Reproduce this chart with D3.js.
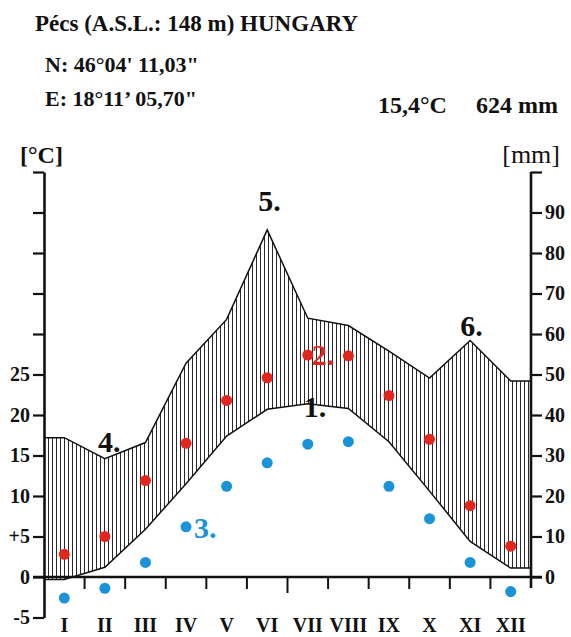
<!DOCTYPE html>
<html>
<head>
<meta charset="utf-8">
<script src="https://cdn.jsdelivr.net/npm/d3@7"></script>
<style>
  body { margin: 0; background: #fff; }
  svg { display: block; }
  text { font-family: "Liberation Serif", "Times New Roman", serif; fill: #111; }
</style>
</head>
<body>
<svg id="chart" width="571" height="637"></svg>
<script>
// monthly values
const months = ["I", "II", "III", "IV", "V", "VI", "VII", "VIII", "IX", "X", "XI", "XII"];
const tempMean = [-0.3, 1.2, 5.9, 11.5, 17.4, 20.7, 21.4, 20.8, 16.7, 10.6, 4.4, 1.1];   // 1.
const tempMax = [2.8, 5.0, 11.9, 16.5, 21.8, 24.6, 27.4, 27.3, 22.4, 17.0, 8.8, 3.8];    // 2.
const tempMin = [-2.6, -1.4, 1.8, 6.2, 11.2, 14.1, 16.4, 16.7, 11.2, 7.2, 1.8, -1.8];    // 3.
const precip = [34.4, 29.2, 33.2, 52.8, 63.6, 85.7, 63.9, 62.1, 55.8, 49.1, 58.4, 48.4]; // 4.-6.

const tempTicks = [-5, 0, 5, 10, 15, 20, 25, 30, 35, 40, 45, 50];
const tempLabels = [-5, 0, 5, 10, 15, 20, 25];
const mmTicks = [0, 10, 20, 30, 40, 50, 60, 70, 80, 90, 100];
const mmLabels = [0, 10, 20, 30, 40, 50, 60, 70, 80, 90];

const red = "#e3261d";
const blue = "#1b93d8";

const svg = d3.select("#chart");

const x = d3.scaleBand().domain(months).range([44, 531]);
const yT = d3.scaleLinear().domain([-5, 50]).range([617.5, 172]);
const yP = d3.scaleLinear().domain([-10, 100]).range([617.5, 172]);
const cx = m => x(m) + x.bandwidth() / 2;

// header
let head = svg.append("g").style("font-weight", "bold");
head.append("text").attr("x", 35).attr("y", 31).style("font-size", "23px")
    .text("Pécs (A.S.L.: 148 m) HUNGARY");
head.append("text").attr("x", 45).attr("y", 72).style("font-size", "22px")
    .text("N: 46°04' 11,03\"");
head.append("text").attr("x", 45).attr("y", 106).style("font-size", "22px")
    .text("E: 18°11’ 05,70\"");
head.append("text").attr("x", 378).attr("y", 113).style("font-size", "24px").text("15,4°C");
head.append("text").attr("x", 558).attr("y", 113).attr("text-anchor", "end").style("font-size", "24px").text("624 mm");
head.append("text").attr("x", 20).attr("y", 163).style("font-size", "24px").text("[°C]");
svg.append("text").attr("x", 560).attr("y", 163).attr("text-anchor", "end").style("font-size", "26px").text("[mm]");

// hatched humid zone between temperature and precipitation curves
let defs = svg.append("defs");
let pat = defs.append("pattern").attr("id", "hatch").attr("patternUnits", "userSpaceOnUse")
    .attr("width", 4).attr("height", 8);
pat.append("line").attr("x1", 0.5).attr("x2", 0.5).attr("y1", 0).attr("y2", 8)
    .attr("stroke", "#111").attr("stroke-width", 0.9);

let pts = months.map((m, i) => ({ x: cx(m), t: tempMean[i], p: precip[i] }));
pts.unshift({ x: x.range()[0], t: tempMean[0], p: precip[0] });
pts.push({ x: x.range()[1], t: tempMean[11], p: precip[11] });

let area = d3.area().x(d => d.x).y0(d => yT(d.t)).y1(d => yP(d.p));
svg.append("path").datum(pts).attr("d", area).attr("fill", "url(#hatch)");

let tLine = d3.line().x(d => d.x).y(d => yT(d.t));
let pLine = d3.line().x(d => d.x).y(d => yP(d.p));
svg.append("path").datum(pts).attr("d", tLine).attr("fill", "none").attr("stroke", "#111").attr("stroke-width", 1.5);
svg.append("path").datum(pts).attr("d", pLine).attr("fill", "none").attr("stroke", "#111").attr("stroke-width", 1.5);

// axes
let leftAxis = d3.axisLeft(yT).tickValues(tempTicks).tickSize(11).tickSizeOuter(0).tickPadding(3)
    .tickFormat(d => tempLabels.includes(d) ? (d === 5 ? "+5" : String(d)) : "");
let gl = svg.append("g").attr("transform", "translate(44,0)").call(leftAxis);

let rightAxis = d3.axisRight(yP).tickValues(mmTicks).tickSize(11).tickSizeOuter(0).tickPadding(3)
    .tickFormat(d => mmLabels.includes(d) ? String(d) : "");
let gr = svg.append("g").attr("transform", "translate(531,0)").call(rightAxis);
gr.select(".domain").remove();
gr.append("line").attr("y1", yP(100)).attr("y2", yP(0) + 11).attr("stroke", "#111").attr("stroke-width", 2.6);

[gl, gr].forEach(g => {
    g.select(".domain").attr("stroke", "#111").attr("stroke-width", 2.6);
    g.selectAll(".tick line").attr("stroke", "#111").attr("stroke-width", 2.2);
    g.selectAll(".tick text").style("font-family", "Liberation Serif").style("font-size", "20px")
        .style("font-weight", "bold").attr("fill", "#111");
});

// zero line and month ticks
svg.append("line").attr("x1", x.range()[0] - 11).attr("x2", x.range()[1] + 11)
    .attr("y1", yT(0)).attr("y2", yT(0)).attr("stroke", "#111").attr("stroke-width", 2.4);
svg.selectAll(".mtick").data(months.slice(1)).join("line").attr("class", "mtick")
    .attr("x1", d => x(d)).attr("x2", d => x(d))
    .attr("y1", yT(0)).attr("y2", d => yT(0) + (d === "VII" ? 16 : 12))
    .attr("stroke", "#111").attr("stroke-width", 2);
svg.selectAll(".mlabel").data(months).join("text").attr("class", "mlabel")
    .attr("x", d => cx(d)).attr("y", 632).attr("text-anchor", "middle")
    .style("font-size", "20px").style("font-weight", "bold").text(d => d);

// dots
svg.selectAll(".dmax").data(months).join("circle").attr("class", "dmax")
    .attr("cx", d => cx(d)).attr("cy", (d, i) => yT(tempMax[i])).attr("r", 5.5).attr("fill", red);
svg.selectAll(".dmin").data(months).join("circle").attr("class", "dmin")
    .attr("cx", d => cx(d)).attr("cy", (d, i) => yT(tempMin[i])).attr("r", 5.5).attr("fill", blue);

// numbered callouts
let callouts = [
    { t: "1.", x: cx("VII") - 4, y: yT(tempMean[6]) + 13, c: "#111" },
    { t: "2.", x: cx("VII") + 4, y: yT(tempMax[6]) + 10, c: red },
    { t: "3.", x: cx("IV") + 8, y: yT(tempMin[3]) + 11, c: blue },
    { t: "4.", x: cx("II") - 7, y: yP(precip[1]) - 7, c: "#111" },
    { t: "5.", x: cx("VI") - 9, y: yP(precip[5]) - 19, c: "#111" },
    { t: "6.", x: cx("XI") - 10, y: yP(precip[10]) - 4, c: "#111" }
];
svg.selectAll(".callout").data(callouts).join("text").attr("class", "callout")
    .attr("x", d => d.x).attr("y", d => d.y)
    .style("font-size", "30px").style("font-weight", "bold").style("fill", d => d.c)
    .text(d => d.t);
</script>
</body>
</html>
